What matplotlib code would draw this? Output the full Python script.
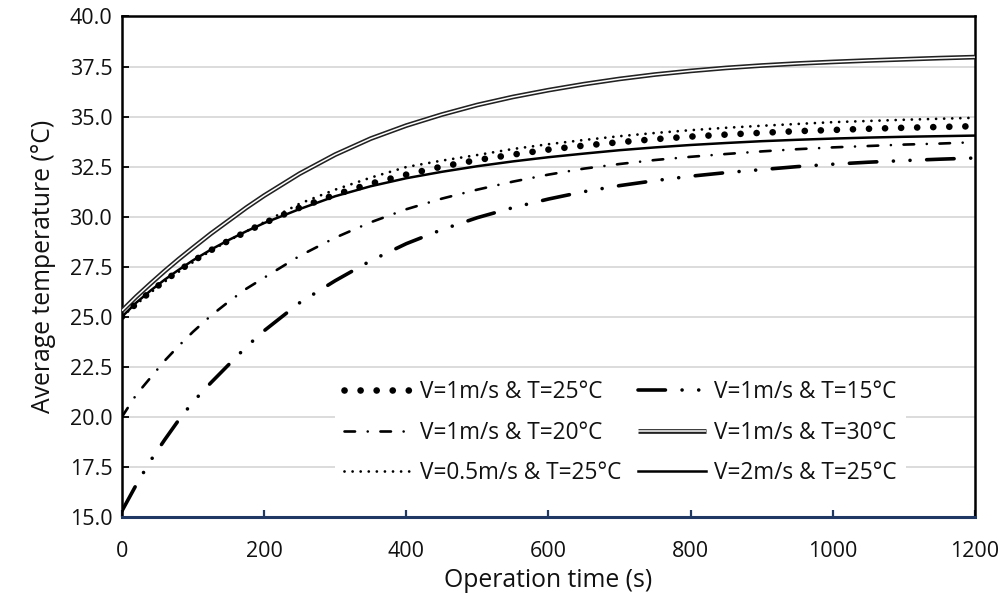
import matplotlib
matplotlib.use("Agg")
import matplotlib.pyplot as plt
from matplotlib.legend_handler import HandlerTuple

plt.rcParams['font.family'] = ['Open Sans', 'DejaVu Sans']

# Operation time (s)
time_s = [0, 20, 40, 60, 80, 100, 125, 150, 175, 200, 250, 300, 350, 400, 450,
          500, 550, 600, 650, 700, 750, 800, 850, 900, 950, 1000, 1050, 1100, 1150, 1200]

# Average temperature (°C) for each case
v1_t25 = [25.0, 25.65, 26.25, 26.8, 27.3, 27.78, 28.32, 28.8, 29.25, 29.68, 30.45, 31.1, 31.65,
          32.1, 32.5, 32.83, 33.1, 33.35, 33.55, 33.72, 33.87, 34.0, 34.1, 34.19, 34.27, 34.33,
          34.39, 34.44, 34.48, 34.52]
v1_t15 = [15.3, 16.6, 17.8, 18.85, 19.85, 20.75, 21.7, 22.6, 23.5, 24.3, 25.7, 26.8, 27.8,
          28.65, 29.35, 29.95, 30.45, 30.88, 31.25, 31.55, 31.8, 32.02, 32.2, 32.35, 32.5, 32.62,
          32.72, 32.8, 32.87, 32.93]
v1_t20 = [20.0, 21.1, 21.95, 22.8, 23.55, 24.25, 25.05, 25.75, 26.4, 26.95, 28.04, 28.95, 29.72,
          30.37, 30.9, 31.35, 31.75, 32.1, 32.4, 32.63, 32.83, 32.99, 33.13, 33.26, 33.37, 33.46,
          33.53, 33.6, 33.65, 33.72]
v1_t30 = [25.3, 26.0, 26.65, 27.28, 27.88, 28.45, 29.15, 29.8, 30.45, 31.05, 32.15, 33.1, 33.9,
          34.55, 35.1, 35.58, 35.98, 36.32, 36.62, 36.88, 37.1, 37.28, 37.43, 37.55, 37.65, 37.73,
          37.8, 37.86, 37.92, 37.97]
v05_t25 = [25.0, 25.62, 26.2, 26.75, 27.25, 27.73, 28.3, 28.8, 29.27, 29.72, 30.65, 31.35, 31.95,
           32.48, 32.8, 33.08, 33.38, 33.62, 33.83, 34.02, 34.18, 34.32, 34.44, 34.54, 34.63,
           34.72, 34.78, 34.84, 34.89, 34.94]
v2_t25 = [25.0, 25.7, 26.3, 26.85, 27.35, 27.82, 28.35, 28.83, 29.27, 29.68, 30.38, 31.02, 31.52,
          31.92, 32.24, 32.52, 32.76, 32.97, 33.15, 33.32, 33.46, 33.58, 33.68, 33.77, 33.84,
          33.9, 33.95, 33.99, 34.02, 34.05]

labels = ["V=1m/s & T=25°C", "V=1m/s & T=15°C", "V=1m/s & T=20°C",
          "V=1m/s & T=30°C", "V=0.5m/s & T=25°C", "V=2m/s & T=25°C"]

x_ticks = [0, 200, 400, 600, 800, 1000, 1200]
y_ticks = [15.0, 17.5, 20.0, 22.5, 25.0, 27.5, 30.0, 32.5, 35.0, 37.5, 40.0]

navy = '#1f3864'

fig = plt.figure(figsize=(10.03, 5.99), dpi=100)
ax = fig.add_axes([0.1216, 0.137, 0.8504, 0.8355])

# double line: thick dark stroke with a thin white core
l30a, = ax.plot(time_s, v1_t30, color='#222222', lw=3.4, solid_capstyle='butt', zorder=3)
l30b, = ax.plot(time_s, v1_t30, color='white', lw=1.1, solid_capstyle='butt', zorder=3.1)

l15, = ax.plot(time_s, v1_t15, color='black', lw=2.6, dashes=(7.6, 4.6, 0.01, 4.6, 0.01, 4.6),
               dash_capstyle='round', zorder=3)
l20, = ax.plot(time_s, v1_t20, color='black', lw=1.9, dashes=(4.0, 4.8, 0.01, 4.8),
               dash_capstyle='round', zorder=3)
l2, = ax.plot(time_s, v2_t25, color='black', lw=1.8, zorder=3)
l05, = ax.plot(time_s, v05_t25, color='black', lw=2.0, dashes=(0.01, 2.9),
               dash_capstyle='round', zorder=3.2)
l1, = ax.plot(time_s, v1_t25, color='black', lw=4.8, dashes=(0.01, 2.4),
              dash_capstyle='round', zorder=3.3)

ax.set_xlim(0, 1200)
ax.set_ylim(15, 40)
ax.set_xticks(x_ticks)
ax.set_yticks(y_ticks)
ax.set_xticklabels([str(v) for v in x_ticks])
ax.set_yticklabels([f"{v:.1f}" for v in y_ticks])
ax.yaxis.grid(True, color='#d9d9d9', lw=1.3, zorder=0)
ax.set_axisbelow(True)

for side in ['left', 'right', 'top']:
    ax.spines[side].set_color('black')
    ax.spines[side].set_linewidth(1.8)
ax.spines['bottom'].set_color(navy)
ax.spines['bottom'].set_linewidth(2.2)
ax.spines['bottom'].set_zorder(4)

ax.tick_params(axis='y', direction='in', length=5, width=1.3, color='black',
               labelsize=15.5, pad=7, labelcolor='#111111')
ax.tick_params(axis='x', direction='in', length=5, width=1.6, color=navy,
               labelsize=15.5, pad=17, labelcolor='#111111')

ax.set_xlabel("Operation time (s)", fontsize=17.8, color='#111111', labelpad=5)
ax.set_ylabel("Average temperature (°C)", fontsize=17.8, color='#111111', labelpad=10)

handles = [l1, l20, l05, l15, (l30a, l30b), l2]
order_labels = [labels[0], labels[2], labels[4], labels[1], labels[3], labels[5]]
leg = ax.legend(handles, order_labels, ncol=2, loc='lower left',
                bbox_to_anchor=(0.25, 0.046), borderaxespad=0,
                fontsize=16.3, handlelength=3.0, handletextpad=0.35,
                columnspacing=0.75, labelspacing=0.72, frameon=True,
                handler_map={tuple: HandlerTuple(ndivide=1, pad=0)})
leg.get_frame().set_facecolor('white')
leg.get_frame().set_edgecolor('none')
leg.get_frame().set_alpha(1.0)
leg.set_zorder(5)
for t in leg.get_texts():
    t.set_color('#111111')

fig.savefig("out.png", dpi=100)
